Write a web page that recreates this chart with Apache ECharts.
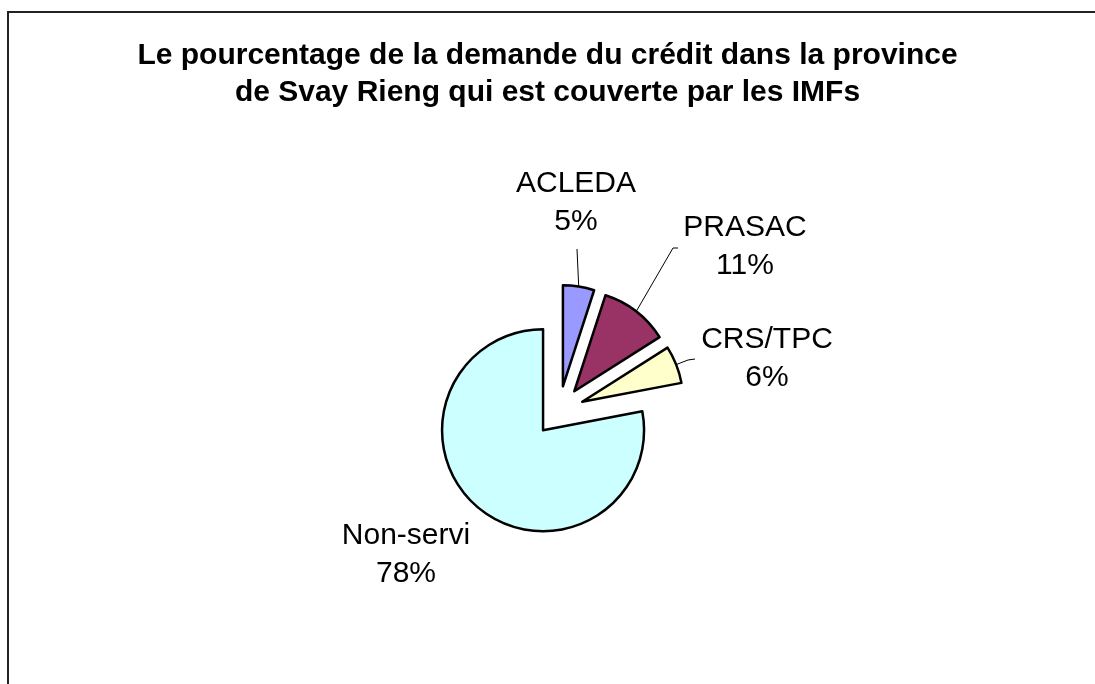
<!DOCTYPE html>
<html>
<head>
<meta charset="utf-8">
<title>Demande du crédit - Svay Rieng</title>
<script src="https://cdn.jsdelivr.net/npm/echarts@6/dist/echarts.min.js"></script>
<style>
	html, body { margin: 0; padding: 0; background: #fff; }
	#chart { width: 1095px; height: 684px; }
</style>
</head>
<body>
<div id="chart"></div>
<script>
// données
const categories = ['ACLEDA', 'PRASAC', 'CRS/TPC', 'Non-servi']
const values = [5, 11, 6, 78]
const colors = ['#9999FF', '#993366', '#FFFFCC', '#CCFFFF']
const titleText = 'Le pourcentage de la demande du crédit dans la province\nde Svay Rieng qui est couverte par les IMFs'

// géométrie du camembert éclaté
const pieCenter = [559, 411]
const pieRadius = 101
const explode = 25

// placement des étiquettes (centre du bloc) et coude des traits de rappel, façon Excel
const labelSpots = [
	{ x: 576, y: 203, guide: [[577, 249]] },
	{ x: 745, y: 247, guide: [[673, 248], [678, 248]] },
	{ x: 767, y: 359, guide: [[688, 360], [695, 359]] },
	{ x: 406, y: 555, guide: null }
]

// direction du milieu de chaque part (sens horaire depuis midi)
const total = values.reduce((a, b) => a + b, 0)
let acc = 0
const midDirs = values.map(v => {
	const a = (acc + v / 2) / total * Math.PI * 2
	acc += v
	return [Math.sin(a), -Math.cos(a)]
})

// longueurs des traits pour que l'étiquette tombe au bon endroit une fois la part décalée
function lineLengths (i) {
	const d = midDirs[i]
	const spot = labelSpots[i]
	const ax = spot.x - d[0] * explode
	const ay = spot.y - d[1] * explode
	const px = pieCenter[0] + pieRadius * d[0]
	const py = pieCenter[1] + pieRadius * d[1]
	const len = (ay - py) / d[1]
	const side = d[0] < 0 ? -1 : 1
	return { length: len, length2: (ax - px - len * d[0]) * side }
}

const pieData = categories.map((name, i) => {
	const l = lineLengths(i)
	return {
		name: name,
		value: values[i],
		selected: true,
		itemStyle: { color: colors[i] },
		labelLine: {
			show: labelSpots[i].guide !== null,
			length: l.length,
			length2: l.length2
		}
	}
})

const chart = echarts.init(document.getElementById('chart'))

const option = {
	animation: false,
	backgroundColor: '#fff',
	title: {
		text: titleText,
		left: 'center',
		top: 32,
		textStyle: {
			fontFamily: 'Liberation Sans, Arial, sans-serif',
			fontSize: 30,
			fontWeight: 'bold',
			lineHeight: 37,
			color: '#000'
		}
	},
	graphic: [{
		// cadre du graphique (coupé à droite et en bas)
		type: 'rect',
		z: -10,
		shape: { x: 8, y: 12, width: 1200, height: 800 },
		style: { fill: 'none', stroke: '#222', lineWidth: 2 }
	}],
	series: [{
		type: 'pie',
		center: pieCenter,
		radius: pieRadius,
		startAngle: 90,
		clockwise: true,
		selectedMode: 'multiple',
		selectedOffset: explode,
		avoidLabelOverlap: false,
		silent: true,
		itemStyle: { borderColor: '#000', borderWidth: 2.5 },
		select: { itemStyle: { borderColor: '#000', borderWidth: 2.5 } },
		emphasis: { disabled: true },
		label: {
			show: true,
			position: 'outside',
			formatter: '{b}\n{c}%',
			distanceToLabelLine: 0,
			fontFamily: 'Liberation Sans, Arial, sans-serif',
			fontSize: 30,
			lineHeight: 38,
			color: '#000'
		},
		labelLine: {
			lineStyle: { color: '#000', width: 1 }
		},
		labelLayout: function (params) {
			const i = params.dataIndex
			const spot = labelSpots[i]
			const out = { align: 'center', verticalAlign: 'middle' }
			if (spot.guide && params.labelLinePoints) {
				// les points sont exprimés avant le décalage de la part
				const d = midDirs[i]
				const pts = spot.guide.map(p => [p[0] - d[0] * explode, p[1] - d[1] * explode])
				out.labelLinePoints = [params.labelLinePoints[0]].concat(pts)
			}
			return out
		},
		data: pieData
	}]
}

chart.setOption(option)
window.addEventListener('resize', chart.resize)
</script>
</body>
</html>
